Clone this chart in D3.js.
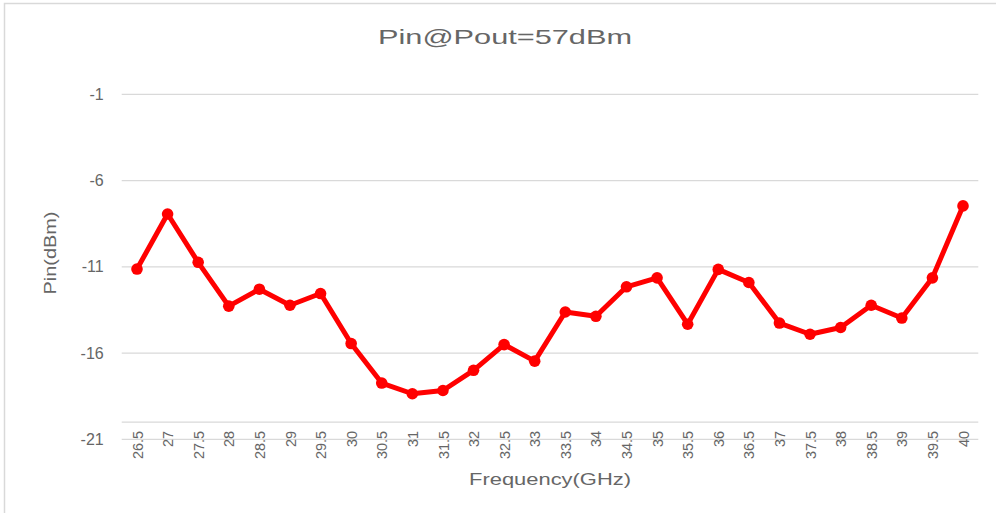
<!DOCTYPE html>
<html>
<head>
<meta charset="utf-8">
<script src="https://cdn.jsdelivr.net/npm/d3@7"></script>
<style>
  body { margin: 0; background: #fff; }
  text { font-family: "Liberation Sans", "DejaVu Sans", sans-serif; fill: #666666; }
</style>
</head>
<body>
<div id="chart"></div>
<script>
// chart data
var frequencies = ['26.5','27','27.5','28','28.5','29','29.5','30','30.5','31','31.5','32','32.5','33',
                   '33.5','34','34.5','35','35.5','36','36.5','37','37.5','38','38.5','39','39.5','40'];
var pinValues = [-11.13, -7.94, -10.74, -13.28, -12.30, -13.23, -12.55, -15.45, -17.74, -18.36, -18.17, -17.0, -15.51, -16.47,
                 -13.62, -13.87, -12.16, -11.64, -14.33, -11.15, -11.91, -14.26, -14.91, -14.52, -13.23, -13.97, -11.64, -7.47];
var yTicks = [-1, -6, -11, -16, -21];
var titleText = 'Pin@Pout=57dBm';
var xTitle = 'Frequency(GHz)';
var yTitle = 'Pin(dBm)';

const WIDTH = 996, HEIGHT = 513;
const PLOT = { left: 121.7, right: 978.3, top: 94.3, bottom: 439.3 };

var svg = d3.select('#chart').append('svg')
            .attr('width', WIDTH)
            .attr('height', HEIGHT);

// outer frame (only top/left visible)
svg.append('rect')
   .attr('x', 4.5).attr('y', 3.5)
   .attr('width', 1020).attr('height', 540)
   .attr('fill', 'none')
   .attr('stroke', '#d9d9d9')
   .attr('stroke-width', 1.5);

var x = d3.scalePoint().domain(frequencies).range([PLOT.left, PLOT.right]).padding(0.5);
var y = d3.scaleLinear().domain([-21, -1]).range([PLOT.bottom, PLOT.top]);

// gridlines
svg.append('g').selectAll('line').data(yTicks)
   .enter().append('line')
   .attr('x1', PLOT.left).attr('x2', PLOT.right)
   .attr('y1', d => y(d)).attr('y2', d => y(d))
   .attr('stroke', '#d9d9d9')
   .attr('stroke-width', 1.3);

// category axis line
svg.append('line')
   .attr('x1', PLOT.left).attr('x2', PLOT.right)
   .attr('y1', y(-20)).attr('y2', y(-20))
   .attr('stroke', '#d9d9d9')
   .attr('stroke-width', 1.3);

// y axis labels (plain hyphen like the original)
var yAxis = svg.append('g')
               .attr('transform', 'translate(' + (PLOT.left - 18) + ',0)')
               .call(d3.axisLeft(y).tickValues(yTicks).tickSize(0).tickPadding(0).tickFormat(d => String(d)));
yAxis.select('.domain').remove();
yAxis.selectAll('text')
     .style('font-size', '16px')
     .style('font-family', '"Liberation Sans", sans-serif')
     .attr('fill', '#666666');

// x axis labels (rotated)
var xAxis = svg.append('g')
               .attr('transform', 'translate(0,' + (y(-21) - 8.5) + ')')
               .call(d3.axisBottom(x).tickSize(0).tickPadding(0));
xAxis.select('.domain').remove();
xAxis.selectAll('text')
     .style('font-size', '14.5px')
     .style('font-family', '"Liberation Sans", sans-serif')
     .attr('fill', '#666666')
     .attr('text-anchor', 'end')
     .attr('transform', 'rotate(-90)')
     .attr('x', 0)
     .attr('y', 0)
     .attr('dy', '0.35em');

// data line
var line = d3.line()
             .x((d, i) => x(frequencies[i]))
             .y(d => y(d));

svg.append('path')
   .datum(pinValues)
   .attr('d', line)
   .attr('fill', 'none')
   .attr('stroke', '#ff0000')
   .attr('stroke-width', 5)
   .attr('stroke-linejoin', 'round');

svg.append('g').selectAll('circle').data(pinValues)
   .enter().append('circle')
   .attr('cx', (d, i) => x(frequencies[i]))
   .attr('cy', d => y(d))
   .attr('r', 5.8)
   .attr('fill', '#ff0000');

// titles
svg.append('text')
   .attr('x', 505).attr('y', 44)
   .attr('text-anchor', 'middle')
   .attr('textLength', 254)
   .attr('lengthAdjust', 'spacingAndGlyphs')
   .style('font-size', '21px')
   .text(titleText);

svg.append('text')
   .attr('x', (PLOT.left + PLOT.right) / 2).attr('y', 485)
   .attr('text-anchor', 'middle')
   .attr('textLength', 162)
   .attr('lengthAdjust', 'spacingAndGlyphs')
   .style('font-size', '17px')
   .text(xTitle);

svg.append('text')
   .attr('transform', 'translate(56,253) rotate(-90)')
   .attr('text-anchor', 'middle')
   .attr('textLength', 83)
   .attr('lengthAdjust', 'spacingAndGlyphs')
   .style('font-size', '16px')
   .text(yTitle);
</script>
</body>
</html>
